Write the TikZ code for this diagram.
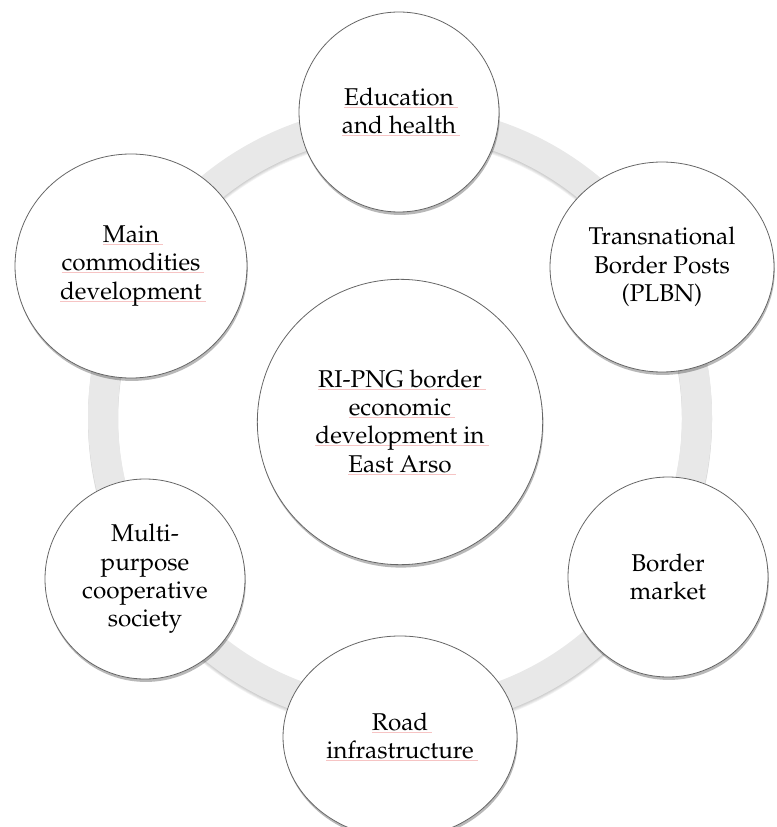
\documentclass[tikz,border=0pt]{standalone}
\usepackage[T1]{fontenc}
\usepackage{mathpazo}
\usetikzlibrary{shapes.geometric,shadows}
\definecolor{sqpink}{HTML}{F6C4C4}
\definecolor{ringgray}{HTML}{E8E8E8}
\newsavebox\sqbox
\newcommand\sq[1]{\sbox\sqbox{#1}\rlap{\color{sqpink}\rule[-1.6pt]{\dimexpr\wd\sqbox+3pt\relax}{0.5pt}}\usebox\sqbox}
\begin{document}
\begin{tikzpicture}[x=0.75pt,y=-0.75pt,
  bubble/.style={ellipse, draw=black!60, line width=0.6pt, fill=white,
    inner sep=0pt, align=center, font=\fontsize{18.2}{21.2}\selectfont,
    drop shadow={shadow xshift=0.6pt, shadow yshift=-2.2pt, opacity=0.28, fill=black}},
  ringshade/.style={line width=22.5pt, black, opacity=0.05},
  ringband/.style={line width=22.5pt, ringgray}
]
\useasboundingbox (0,0) rectangle (776,827);
% ring
\foreach \s in {1,2,3,4}
  \draw[ringshade] (400,417+\s) circle[radius=222.75pt];
\draw[ringband] (400,417) circle[radius=222.75pt];
% outer bubbles
\node[bubble, minimum width=150pt, minimum height=150pt] (edu) at (399,112)
  {\sq{Education}\\\sq{and health}};
\node[bubble, minimum width=168pt, minimum height=157.5pt] (plbn) at (662,267)
  {Transnational\\Border Posts\\(PLBN)};
\node[bubble, minimum width=150pt, minimum height=150pt] (market) at (668,577)
  {Border\\market};
\node[bubble, minimum width=175.5pt, minimum height=151.5pt] (road) at (400,737)
  {\sq{Road}\\\sq{infrastructure}};
\node[bubble, minimum width=150pt, minimum height=150pt] (coop) at (145,579)
  {Multi-\\purpose\\cooperative\\society};
\node[bubble, minimum width=174pt, minimum height=168pt] (comm) at (131,266)
  {\sq{Main}\\\sq{commodities}\\\sq{development}};
% centre bubble
\node[bubble, minimum width=214pt, minimum height=214pt] (core) at (400,422)
  {\sq{RI-PNG border}\\\sq{economic}\\\sq{development in}\\\sq{East Arso}};
\end{tikzpicture}
\end{document}
